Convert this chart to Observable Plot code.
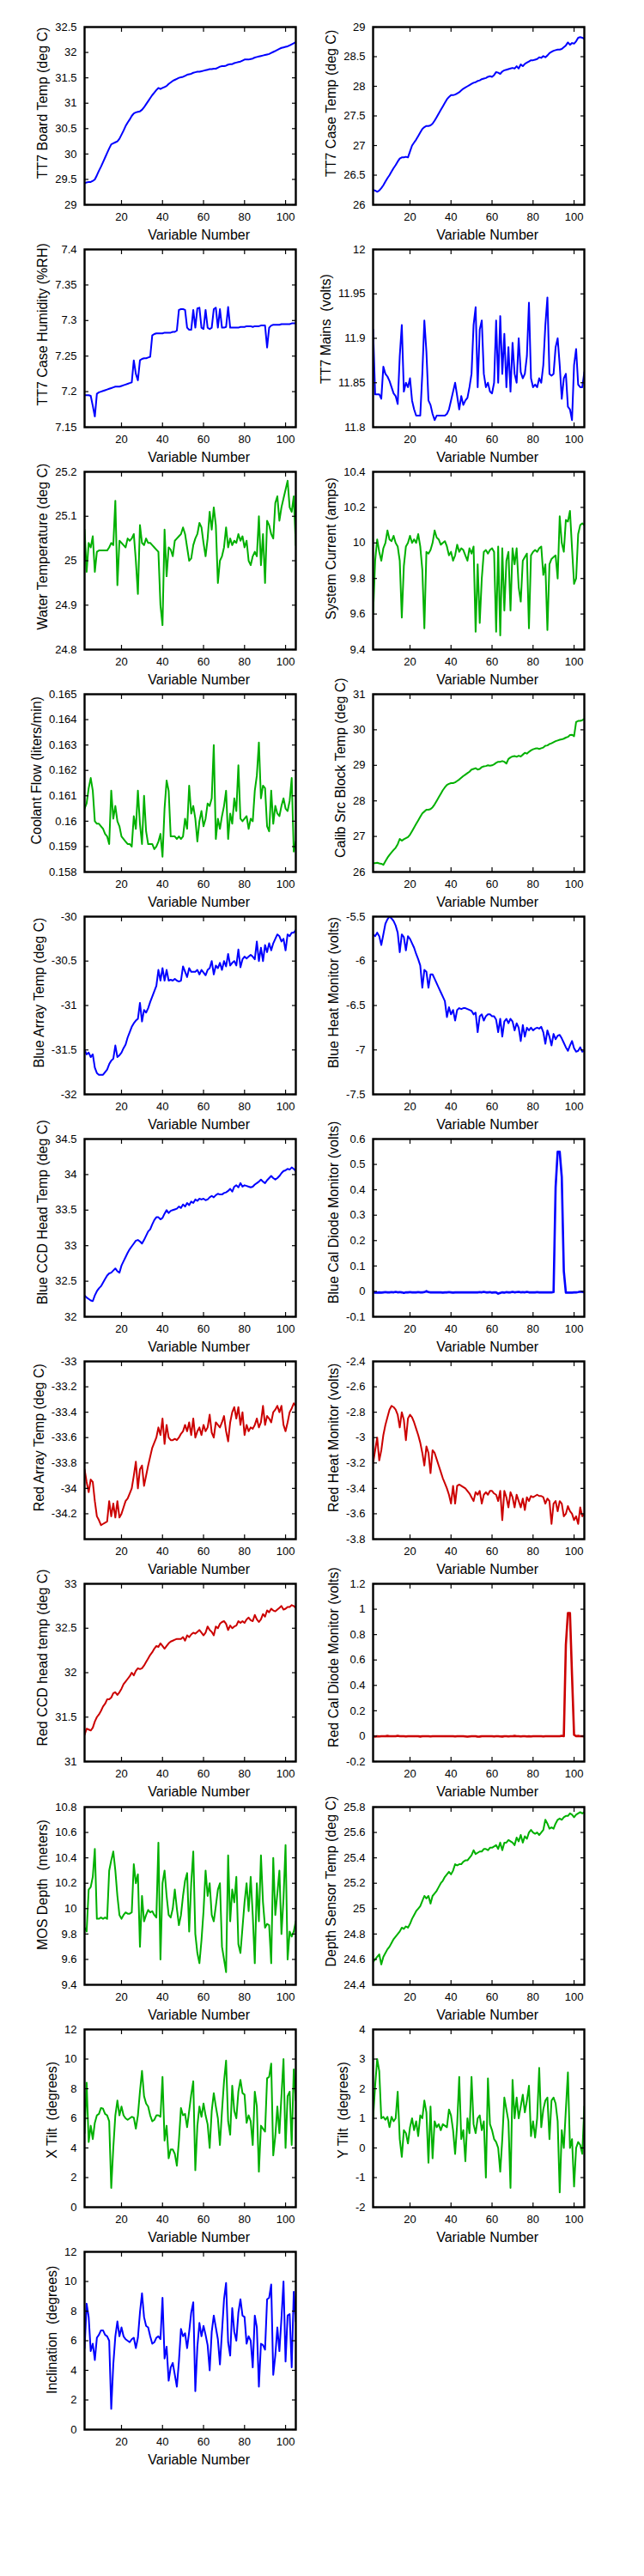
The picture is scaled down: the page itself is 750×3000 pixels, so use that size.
<!DOCTYPE html>
<html><head><meta charset="utf-8">
<script src="https://cdn.jsdelivr.net/npm/d3@7"></script>
<script src="https://cdn.jsdelivr.net/npm/@observablehq/plot@0.6"></script>
<style>
html,body{margin:0;padding:0;background:#fff;}
#wrap{position:relative;width:750px;height:3000px;background:#fff;overflow:hidden;}
#wrap svg{position:absolute;overflow:visible;}
#wrap text{white-space:pre;}
</style></head><body><div id="wrap"></div>
<script>
const variableNumber = d3.range(2, 106);
const xTicks = [20, 40, 60, 80, 100];

const boardTemp = [
29.42,29.44,29.45,29.45,29.47,29.5,29.58,29.67,29.75,29.84,
29.93,30.02,30.11,30.19,30.21,30.23,30.25,30.3,30.38,30.46,
30.55,30.62,30.68,30.75,30.8,30.82,30.83,30.84,30.87,30.92,
30.98,31.04,31.1,31.16,31.21,31.26,31.3,31.28,31.3,31.32,
31.34,31.38,31.41,31.44,31.46,31.48,31.5,31.51,31.52,31.54,
31.56,31.57,31.58,31.6,31.61,31.62,31.62,31.63,31.64,31.65,
31.66,31.67,31.67,31.68,31.68,31.7,31.72,31.73,31.73,31.74,
31.76,31.77,31.77,31.79,31.8,31.81,31.82,31.84,31.86,31.86,
31.86,31.87,31.88,31.9,31.91,31.92,31.93,31.94,31.95,31.96,
31.97,31.99,32.01,32.03,32.05,32.07,32.09,32.1,32.11,32.12,
32.14,32.16,32.18,32.2];
const caseTemp = [
26.25,26.24,26.22,26.24,26.28,26.33,26.39,26.45,26.5,26.56,
26.62,26.67,26.73,26.78,26.8,26.8,26.81,26.8,26.9,27.0,
27.05,27.1,27.16,27.22,27.28,27.31,27.33,27.33,27.34,27.37,
27.42,27.48,27.54,27.6,27.66,27.72,27.78,27.82,27.85,27.85,
27.86,27.88,27.9,27.93,27.96,27.98,28.0,28.02,28.04,28.06,
28.07,28.09,28.1,28.12,28.13,28.14,28.16,28.17,28.16,28.19,
28.24,28.23,28.21,28.25,28.27,28.28,28.29,28.3,28.31,28.3,
28.34,28.3,28.37,28.34,28.38,28.4,28.42,28.44,28.44,28.45,
28.46,28.49,28.48,28.51,28.49,28.52,28.56,28.58,28.6,28.61,
28.62,28.62,28.63,28.66,28.69,28.74,28.7,28.73,28.72,28.76,
28.82,28.83,28.82,28.8];
const caseHumidity = [
7.195,7.195,7.195,7.194,7.18,7.165,7.197,7.199,7.2,7.201,
7.202,7.203,7.204,7.205,7.206,7.207,7.207,7.207,7.208,7.209,
7.21,7.211,7.212,7.213,7.244,7.225,7.216,7.244,7.246,7.247,
7.247,7.248,7.249,7.279,7.281,7.282,7.282,7.282,7.282,7.283,
7.283,7.283,7.283,7.284,7.284,7.286,7.315,7.316,7.316,7.315,
7.29,7.287,7.287,7.315,7.29,7.317,7.318,7.29,7.288,7.315,
7.29,7.288,7.29,7.316,7.318,7.29,7.316,7.29,7.29,7.291,
7.319,7.29,7.29,7.29,7.29,7.29,7.291,7.291,7.291,7.292,
7.292,7.292,7.291,7.292,7.292,7.292,7.293,7.293,7.293,7.262,
7.29,7.293,7.294,7.294,7.294,7.294,7.295,7.295,7.295,7.295,
7.295,7.296,7.296,7.296];
const mainsVolts = [
11.91,11.837,11.837,11.837,11.832,11.868,11.86,11.857,11.852,11.845,
11.838,11.835,11.826,11.88,11.915,11.84,11.85,11.845,11.855,11.83,
11.82,11.813,11.813,11.813,11.86,11.92,11.885,11.83,11.825,11.815,
11.808,11.813,11.813,11.813,11.813,11.813,11.815,11.82,11.83,11.84,
11.85,11.835,11.82,11.835,11.825,11.83,11.833,11.845,11.86,11.915,
11.935,11.845,11.91,11.92,11.86,11.845,11.85,11.84,11.838,11.85,
11.92,11.85,11.925,11.86,11.905,11.845,11.89,11.84,11.895,11.86,
11.85,11.9,11.862,11.855,11.86,11.88,11.94,11.855,11.845,11.848,
11.845,11.855,11.85,11.87,11.915,11.946,11.86,11.858,11.86,11.89,
11.9,11.87,11.832,11.855,11.86,11.823,11.82,11.808,11.87,11.888,
11.848,11.845,11.845,11.862];
const waterTemp = [
25.07,24.975,25.04,25.03,25.055,24.975,25.02,25.023,25.023,25.023,
25.023,25.023,25.03,25.04,25.035,25.135,24.945,25.045,25.04,25.035,
25.03,25.05,25.045,25.05,25.06,25.0,24.925,25.08,25.04,25.035,
25.05,25.04,25.04,25.035,25.03,25.025,25.02,24.9,24.855,25.07,
24.965,25.03,25.025,25.01,25.045,25.05,25.055,25.06,25.075,25.06,
25.03,25.0,25.005,25.035,25.05,25.06,25.085,25.075,25.04,25.01,
25.05,25.11,25.07,25.12,25.08,24.95,25.0,25.01,25.03,25.075,
25.03,25.05,25.035,25.045,25.04,25.06,25.045,25.055,25.03,25.045,
25.0,24.99,25.01,25.02,25.01,25.1,24.99,25.06,24.95,25.09,
25.08,25.06,25.05,25.13,25.145,25.09,25.12,25.14,25.16,25.18,
25.12,25.11,25.145,25.035];
const systemCurrent = [
9.6,9.9,10.02,9.95,9.9,9.97,10.0,10.07,10.02,10.01,
10.04,10.0,9.98,9.9,9.58,9.87,9.98,10.0,10.04,10.0,
10.02,10.0,10.05,9.98,9.85,9.52,9.95,9.94,9.96,10.0,
10.07,10.03,10.02,9.99,10.0,10.01,9.98,9.93,9.95,9.9,
9.93,9.99,9.95,9.97,9.96,9.93,9.9,9.97,9.94,9.98,
9.5,9.88,9.55,9.8,9.95,9.96,9.94,9.96,9.97,9.95,
9.5,9.98,9.48,9.97,9.62,9.9,9.95,9.62,9.97,9.88,
9.97,9.75,9.67,9.9,9.92,9.94,9.52,9.93,9.95,9.96,
9.95,9.97,9.98,9.82,9.88,9.51,9.88,9.91,9.92,9.93,
9.8,10.15,10.0,9.95,10.13,10.12,10.18,9.97,9.77,9.8,
10.05,10.1,10.11,10.1];
const coolantFlow = [
0.1605,0.1607,0.1613,0.1617,0.1612,0.16,0.1599,0.1599,0.1598,0.1597,
0.1595,0.1594,0.1591,0.1612,0.1601,0.1606,0.16,0.1598,0.1594,0.1593,
0.1592,0.1591,0.1591,0.159,0.1602,0.1597,0.1612,0.1599,0.1591,0.161,
0.1596,0.1591,0.1591,0.1591,0.1589,0.159,0.1592,0.1595,0.1586,0.1605,
0.1616,0.1612,0.1594,0.1594,0.1594,0.1593,0.1594,0.1593,0.1594,0.1601,
0.1597,0.1614,0.1603,0.1606,0.1601,0.1592,0.16,0.1604,0.1598,0.1601,
0.1607,0.1606,0.1609,0.163,0.1593,0.1601,0.1597,0.1602,0.1606,0.1612,
0.1593,0.1603,0.1599,0.1609,0.1604,0.1622,0.1601,0.16,0.1601,0.1602,
0.1597,0.1601,0.16,0.1612,0.1618,0.1631,0.1609,0.1614,0.1613,0.1598,
0.1596,0.1612,0.1599,0.1606,0.1603,0.1602,0.1606,0.1609,0.1605,0.1604,
0.1608,0.1617,0.1588,0.1592];
const calibTemp = [
26.25,26.25,26.26,26.24,26.23,26.2,26.3,26.4,26.48,26.55,
26.62,26.68,26.78,26.93,26.88,26.92,26.95,26.98,27.05,27.15,
27.25,27.35,27.45,27.55,27.65,27.7,27.75,27.75,27.77,27.82,
27.9,28.0,28.1,28.2,28.3,28.38,28.45,28.48,28.5,28.5,
28.52,28.56,28.6,28.65,28.7,28.74,28.78,28.82,28.88,28.9,
28.92,28.88,28.9,28.95,28.97,28.98,29.0,28.99,29.0,29.03,
29.07,29.1,29.1,29.12,29.1,29.05,29.18,29.22,29.25,29.26,
29.24,29.27,29.25,29.3,29.35,29.33,29.38,29.42,29.45,29.47,
29.48,29.46,29.48,29.5,29.55,29.56,29.6,29.62,29.65,29.68,
29.7,29.72,29.73,29.75,29.78,29.8,29.85,29.86,29.82,30.22,
30.25,30.25,30.27,30.3];
const blueArray = [
-31.5,-31.55,-31.53,-31.58,-31.55,-31.7,-31.76,-31.78,-31.78,-31.78,
-31.75,-31.72,-31.66,-31.62,-31.6,-31.45,-31.58,-31.56,-31.53,-31.48,
-31.44,-31.36,-31.3,-31.24,-31.2,-31.17,-31.15,-30.97,-31.18,-31.05,
-31.08,-31.03,-30.96,-30.9,-30.84,-30.78,-30.6,-30.72,-30.58,-30.72,
-30.6,-30.72,-30.71,-30.72,-30.7,-30.72,-30.73,-30.72,-30.56,-30.62,
-30.68,-30.58,-30.62,-30.62,-30.62,-30.6,-30.65,-30.6,-30.63,-30.66,
-30.6,-30.58,-30.5,-30.65,-30.55,-30.58,-30.52,-30.6,-30.5,-30.56,
-30.42,-30.55,-30.52,-30.5,-30.55,-30.37,-30.57,-30.48,-30.45,-30.47,
-30.45,-30.43,-30.45,-30.48,-30.28,-30.5,-30.35,-30.5,-30.32,-30.4,
-30.3,-30.38,-30.3,-30.25,-30.2,-30.22,-30.28,-30.25,-30.38,-30.2,
-30.22,-30.18,-30.18,-30.15];
const blueHeat = [
-5.7,-5.72,-5.68,-5.72,-5.82,-5.7,-5.58,-5.53,-5.5,-5.52,
-5.55,-5.6,-5.68,-5.9,-5.7,-5.73,-5.88,-5.72,-5.75,-5.8,
-5.85,-5.92,-5.98,-6.05,-6.3,-6.1,-6.12,-6.3,-6.15,-6.15,
-6.2,-6.25,-6.3,-6.35,-6.4,-6.45,-6.63,-6.52,-6.6,-6.55,
-6.67,-6.55,-6.53,-6.54,-6.53,-6.53,-6.54,-6.55,-6.56,-6.6,
-6.58,-6.8,-6.62,-6.6,-6.67,-6.62,-6.6,-6.6,-6.62,-6.62,
-6.66,-6.8,-6.65,-6.85,-6.68,-6.65,-6.7,-6.65,-6.68,-6.78,
-6.7,-6.75,-6.9,-6.72,-6.85,-6.75,-6.78,-6.75,-6.78,-6.76,
-6.75,-6.76,-6.74,-6.8,-6.93,-6.78,-6.85,-6.95,-6.82,-6.88,
-6.84,-6.83,-6.87,-6.92,-6.97,-7.01,-6.95,-6.9,-6.98,-7.02,
-7.01,-6.97,-7.02,-7.01];
const blueCCD = [
32.3,32.27,32.25,32.23,32.22,32.3,32.36,32.4,32.43,32.48,
32.53,32.58,32.61,32.62,32.65,32.68,32.64,32.62,32.72,32.78,
32.84,32.9,32.95,32.99,33.03,33.07,33.08,33.06,33.03,33.08,
33.14,33.2,33.23,33.3,33.36,33.4,33.4,33.37,33.39,33.45,
33.5,33.46,33.49,33.5,33.51,33.52,33.55,33.53,33.58,33.55,
33.6,33.57,33.62,33.6,33.65,33.63,33.66,33.65,33.66,33.64,
33.65,33.68,33.7,33.68,33.71,33.73,33.72,33.72,33.74,33.75,
33.77,33.8,33.76,33.83,33.85,33.82,33.88,33.83,33.85,33.84,
33.83,33.82,33.83,33.86,33.88,33.9,33.93,33.9,33.88,33.92,
33.95,33.98,33.95,33.93,33.95,33.98,34.02,34.05,34.06,34.08,
34.07,34.1,34.08,34.05];
const blueCalDiode = [
-0.003,-0.005,-0.005,-0.004,-0.005,-0.004,-0.003,-0.004,-0.004,-0.003,
-0.004,-0.002,-0.004,-0.003,-0.004,-0.006,-0.004,-0.004,-0.003,-0.004,
-0.004,-0.004,-0.003,-0.004,-0.004,-0.003,0.001,-0.003,-0.004,-0.004,
-0.004,-0.004,-0.004,-0.004,-0.005,-0.004,-0.004,-0.003,-0.004,-0.005,
-0.004,-0.004,-0.004,-0.004,-0.004,-0.004,-0.004,-0.004,-0.004,-0.004,
-0.004,-0.004,-0.003,-0.004,-0.002,-0.004,-0.004,-0.003,-0.005,-0.004,
-0.004,-0.009,-0.006,-0.004,-0.005,-0.003,-0.004,-0.004,-0.002,-0.004,
-0.003,-0.002,-0.004,-0.003,-0.004,-0.002,-0.004,-0.004,-0.004,-0.004,
-0.003,-0.004,-0.004,-0.004,-0.004,-0.004,-0.004,-0.004,-0.003,0.41,
0.55,0.55,0.45,0.08,-0.005,-0.005,-0.005,-0.005,-0.004,-0.004,
-0.003,-0.001,-0.002,-0.004];
const redArray = [
-33.85,-33.95,-34.03,-33.93,-33.95,-34.1,-34.22,-34.25,-34.29,-34.28,
-34.27,-34.26,-34.1,-34.22,-34.12,-34.23,-34.1,-34.23,-34.2,-34.15,
-34.1,-34.08,-34.04,-34.0,-33.9,-33.79,-34.0,-33.85,-33.82,-33.98,
-33.9,-33.82,-33.75,-33.68,-33.64,-33.6,-33.52,-33.58,-33.45,-33.65,
-33.5,-33.6,-33.62,-33.62,-33.61,-33.62,-33.6,-33.57,-33.55,-33.5,
-33.55,-33.48,-33.58,-33.45,-33.6,-33.55,-33.52,-33.58,-33.5,-33.55,
-33.52,-33.42,-33.56,-33.6,-33.48,-33.5,-33.52,-33.48,-33.43,-33.55,
-33.63,-33.48,-33.4,-33.36,-33.45,-33.36,-33.5,-33.4,-33.58,-33.5,
-33.55,-33.52,-33.53,-33.5,-33.45,-33.52,-33.48,-33.35,-33.5,-33.43,
-33.45,-33.48,-33.4,-33.38,-33.35,-33.4,-33.35,-33.5,-33.55,-33.48,
-33.4,-33.37,-33.33,-33.35];
const redHeat = [
-3.2,-3.1,-3.0,-3.18,-3.1,-2.98,-2.9,-2.84,-2.78,-2.75,
-2.76,-2.78,-2.82,-2.92,-2.8,-2.86,-3.02,-2.85,-2.82,-2.84,
-2.88,-2.93,-2.98,-3.04,-3.12,-3.22,-3.07,-3.12,-3.28,-3.1,
-3.12,-3.17,-3.22,-3.27,-3.32,-3.36,-3.4,-3.45,-3.52,-3.38,
-3.52,-3.38,-3.37,-3.38,-3.39,-3.4,-3.42,-3.44,-3.47,-3.5,
-3.43,-3.45,-3.42,-3.52,-3.45,-3.43,-3.45,-3.42,-3.42,-3.44,
-3.45,-3.5,-3.42,-3.65,-3.42,-3.47,-3.55,-3.43,-3.47,-3.55,
-3.45,-3.5,-3.55,-3.48,-3.57,-3.47,-3.5,-3.46,-3.47,-3.46,
-3.45,-3.46,-3.46,-3.47,-3.52,-3.48,-3.5,-3.68,-3.52,-3.5,
-3.58,-3.5,-3.52,-3.62,-3.6,-3.54,-3.58,-3.6,-3.65,-3.62,
-3.68,-3.55,-3.62,-3.6];
const redCCD = [
31.3,31.37,31.36,31.35,31.38,31.45,31.5,31.53,31.57,31.62,
31.65,31.7,31.7,31.72,31.77,31.78,31.75,31.78,31.82,31.87,
31.9,31.93,31.96,32.0,31.97,32.02,32.05,32.04,32.05,32.08,
32.12,32.16,32.2,32.23,32.27,32.3,32.29,32.33,32.3,32.27,
32.3,32.33,32.35,32.36,32.37,32.38,32.38,32.38,32.4,32.36,
32.42,32.4,32.43,32.45,32.44,32.46,32.48,32.45,32.42,32.45,
32.52,32.48,32.46,32.42,32.52,32.5,32.55,32.57,32.58,32.55,
32.48,32.53,32.5,32.52,32.53,32.58,32.56,32.58,32.56,32.6,
32.62,32.59,32.58,32.65,32.6,32.57,32.6,32.66,32.63,32.7,
32.68,32.72,32.7,32.69,32.71,32.73,32.75,32.71,32.72,32.74,
32.74,32.76,32.75,32.73];
const redCalDiode = [
0.0,-0.003,0.0,-0.002,0.0,0.0,-0.001,0.002,0.0,-0.001,
0.0,0.0,0.003,0.0,-0.001,0.0,-0.002,0.0,0.0,0.0,
-0.001,0.0,0.0,-0.003,0.0,0.0,0.0,0.0,-0.002,0.0,
0.0,0.0,0.0,0.0,0.0,-0.001,0.0,0.0,0.0,0.0,
-0.002,0.0,0.0,0.0,0.0,-0.002,-0.004,-0.002,0.0,0.0,
0.0,-0.004,-0.003,0.0,0.0,0.0,0.0,0.0,0.0,-0.002,
0.0,0.0,-0.002,-0.003,0.0,0.0,-0.002,0.0,0.0,0.002,
0.0,0.0,-0.002,0.0,0.0,-0.002,0.0,-0.002,0.0,0.0,
0.0,0.0,0.0,-0.002,0.0,0.0,0.0,0.0,0.0,0.0,
0.0,0.0,0.003,0.0,0.72,0.97,0.97,0.48,0.01,0.0,
0.002,0.0,0.0,-0.002];
const mosDepth = [
9.85,9.82,10.15,10.17,10.25,10.47,9.92,9.92,9.93,9.92,
9.93,9.92,10.3,10.38,10.45,10.3,10.1,9.95,9.92,9.95,
9.97,9.96,9.96,9.97,10.35,10.2,10.27,9.7,10.1,9.9,
9.95,9.99,9.97,9.98,9.95,9.93,10.52,9.6,10.2,10.3,
10.1,9.95,9.93,10.0,10.15,10.0,9.87,9.95,10.1,10.22,
10.28,9.82,10.2,10.45,9.8,9.65,9.57,9.75,9.98,10.3,
10.1,10.2,9.95,9.9,10.02,10.15,10.2,9.7,9.6,9.5,
10.42,9.9,10.15,10.05,10.25,9.72,9.65,9.85,10.05,10.2,
9.98,10.25,9.95,9.57,10.2,9.9,10.42,10.05,9.85,9.88,
9.87,9.57,10.4,9.95,10.12,10.3,9.8,10.08,10.5,9.6,
9.82,9.78,9.82,9.9];
const depthSensorTemp = [
24.58,24.6,24.62,24.64,24.56,24.62,24.65,24.68,24.7,24.73,
24.76,24.78,24.8,24.82,24.85,24.84,24.86,24.85,24.88,24.92,
24.95,24.98,25.0,25.02,25.06,25.1,25.08,25.1,25.04,25.1,
25.12,25.14,25.17,25.2,25.22,25.25,25.27,25.29,25.27,25.3,
25.35,25.34,25.35,25.35,25.37,25.38,25.38,25.4,25.42,25.46,
25.43,25.44,25.45,25.45,25.47,25.47,25.46,25.48,25.48,25.49,
25.5,25.47,25.52,25.46,25.52,25.52,25.54,25.53,25.52,25.5,
25.56,25.53,25.58,25.52,25.57,25.55,25.6,25.62,25.6,25.59,
25.6,25.58,25.6,25.62,25.7,25.67,25.63,25.64,25.63,25.67,
25.7,25.71,25.7,25.72,25.73,25.73,25.75,25.74,25.72,25.74,
25.75,25.76,25.75,25.76];
const xTilt = [
5.0,8.4,4.4,5.5,4.6,5.7,6.2,6.3,6.7,6.65,
6.3,6.2,5.8,1.3,4.0,6.2,7.2,6.2,6.8,6.2,
6.0,5.9,6.0,6.1,6.05,5.3,6.2,7.8,9.2,7.5,
7.0,6.8,6.2,5.8,5.9,6.2,6.2,6.1,8.8,4.5,
5.5,3.3,3.9,3.9,3.6,2.8,4.5,6.7,6.2,6.3,
5.4,6.5,7.6,8.5,2.5,5.5,6.8,6.1,7.0,6.2,
5.6,4.0,6.5,7.7,6.8,6.0,4.2,6.5,8.5,9.9,
5.8,4.9,8.2,6.5,6.0,7.8,8.6,7.7,7.6,5.7,
6.2,5.8,4.2,7.8,6.8,2.4,5.5,5.3,5.1,8.7,
8.8,9.7,3.5,4.8,6.8,5.0,7.5,10.0,4.0,7.5,
7.8,4.2,9.3,7.2];
const yTilt = [
1.0,2.1,3.0,2.6,1.0,1.05,0.95,1.05,0.7,1.05,
0.9,1.0,1.9,0.3,-0.3,0.6,0.5,0.15,0.7,1.0,
0.6,0.9,0.4,1.1,1.0,1.6,1.2,-0.5,1.4,-0.35,
0.9,0.7,0.8,0.6,0.8,0.75,0.7,1.3,1.1,0.6,
-0.2,0.8,2.4,0.3,0.6,-0.45,1.0,0.5,2.4,0.8,
0.5,1.0,1.1,0.6,0.9,-1.0,2.35,0.8,0.6,0.3,
0.2,0.0,-0.8,0.3,1.7,1.3,0.9,-1.35,2.3,1.0,
1.7,1.0,1.4,1.8,1.2,1.6,2.1,0.4,0.9,0.35,
1.0,2.7,0.7,1.3,1.6,1.7,0.3,1.6,1.7,1.5,
0.9,-1.5,0.6,0.0,1.3,2.55,0.0,0.3,-1.3,0.0,
0.2,0.1,-0.2,1.4];
const inclination = [
5.5,8.5,7.6,5.3,5.8,4.7,6.2,6.4,6.7,6.7,
6.4,6.3,6.0,1.4,4.4,6.3,7.3,6.3,6.9,6.3,
6.1,6.0,5.9,6.1,6.2,5.5,6.2,7.9,9.2,7.6,
7.0,6.9,6.3,5.8,5.9,6.2,6.3,6.1,8.9,4.8,
5.6,3.3,4.2,4.5,3.7,2.9,4.6,6.8,6.3,6.5,
5.5,6.6,7.9,8.6,2.6,5.6,7.2,6.3,7.0,6.4,
5.7,4.0,6.6,7.7,6.9,6.1,4.4,6.6,8.8,9.9,
5.9,5.0,8.2,6.6,6.0,7.9,8.8,7.7,7.6,5.8,
6.3,6.0,4.2,7.7,6.9,2.9,5.8,5.7,5.4,8.8,
8.9,9.8,3.7,5.0,6.9,5.3,7.5,10.0,4.6,7.7,
7.8,4.2,9.3,7.3];

const BLUE = "#0000ff", GREEN = "#00b000", RED = "#cc0000";

const panels = [
  {label:"TT7 Board Temp (deg C)", values:boardTemp, domain:[29,32.5], ticks:[29,29.5,30,30.5,31,31.5,32,32.5], color:BLUE},
  {label:"TT7 Case Temp (deg C)", values:caseTemp, domain:[26,29], ticks:[26,26.5,27,27.5,28,28.5,29], color:BLUE},
  {label:"TT7 Case Humidity (%RH)", values:caseHumidity, domain:[7.15,7.4], ticks:[7.15,7.2,7.25,7.3,7.35,7.4], color:BLUE},
  {label:"TT7 Mains  (volts)", values:mainsVolts, domain:[11.8,12], ticks:[11.8,11.85,11.9,11.95,12], color:BLUE},
  {label:"Water Temperature (deg C)", values:waterTemp, domain:[24.8,25.2], ticks:[24.8,24.9,25,25.1,25.2], color:GREEN},
  {label:"System Current (amps)", values:systemCurrent, domain:[9.4,10.4], ticks:[9.4,9.6,9.8,10,10.2,10.4], color:GREEN},
  {label:"Coolant Flow (liters/min)", values:coolantFlow, domain:[0.158,0.165], ticks:[0.158,0.159,0.16,0.161,0.162,0.163,0.164,0.165], color:GREEN},
  {label:"Calib Src Block Temp (deg C)", values:calibTemp, domain:[26,31], ticks:[26,27,28,29,30,31], color:GREEN},
  {label:"Blue Array Temp (deg C)", values:blueArray, domain:[-32,-30], ticks:[-32,-31.5,-31,-30.5,-30], color:BLUE},
  {label:"Blue Heat Monitor (volts)", values:blueHeat, domain:[-7.5,-5.5], ticks:[-7.5,-7,-6.5,-6,-5.5], color:BLUE},
  {label:"Blue CCD Head Temp (deg C)", values:blueCCD, domain:[32,34.5], ticks:[32,32.5,33,33.5,34,34.5], color:BLUE},
  {label:"Blue Cal Diode Monitor (volts)", values:blueCalDiode, domain:[-0.1,0.6], ticks:[-0.1,0,0.1,0.2,0.3,0.4,0.5,0.6], color:BLUE, sw:2.6},
  {label:"Red Array Temp (deg C)", values:redArray, domain:[-34.4,-33], ticks:[-34.2,-34,-33.8,-33.6,-33.4,-33.2,-33], color:RED},
  {label:"Red Heat Monitor (volts)", values:redHeat, domain:[-3.8,-2.4], ticks:[-3.8,-3.6,-3.4,-3.2,-3,-2.8,-2.6,-2.4], color:RED},
  {label:"Red CCD head temp (deg C)", values:redCCD, domain:[31,33], ticks:[31,31.5,32,32.5,33], color:RED},
  {label:"Red Cal Diode Monitor (volts)", values:redCalDiode, domain:[-0.2,1.2], ticks:[-0.2,0,0.2,0.4,0.6,0.8,1,1.2], color:RED, sw:2.6},
  {label:"MOS Depth  (meters)", values:mosDepth, domain:[9.4,10.8], ticks:[9.4,9.6,9.8,10,10.2,10.4,10.6,10.8], color:GREEN},
  {label:"Depth Sensor Temp (deg C)", values:depthSensorTemp, domain:[24.4,25.8], ticks:[24.4,24.6,24.8,25,25.2,25.4,25.6,25.8], color:GREEN},
  {label:"X Tilt  (degrees)", values:xTilt, domain:[0,12], ticks:[0,2,4,6,8,10,12], color:GREEN},
  {label:"Y Tilt  (degrees)", values:yTilt, domain:[-2,4], ticks:[-2,-1,0,1,2,3,4], color:GREEN},
  {label:"Inclination  (degrees)", values:inclination, domain:[0,12], ticks:[0,2,4,6,8,10,12], color:BLUE}
];

const FONT = "'Liberation Sans', Arial, Helvetica, sans-serif";
const ctx = document.createElement("canvas").getContext("2d");
function textWidth(s, size) { ctx.font = size + "px " + FONT; return ctx.measureText(s).width; }

const BOX_W = 246, BOX_H = 207, ML = 100, MR = 20, MT = 30, MB = 50;
const colLeft = [98, 434];
const rowTop0 = 30.7, rowStep = 259.1;
const wrap = document.getElementById("wrap");
const fmt = d => String(d);

panels.forEach((p, i) => {
  if (p.values.length !== variableNumber.length) throw new Error(p.label + " has " + p.values.length + " values");
  const col = i % 2, row = Math.floor(i / 2);
  const data = p.values.map((v, j) => ({n: variableNumber[j], v}));
  const tickW = d3.max(p.ticks, t => textWidth(String(t), 13));
  const labW = textWidth(p.label, 16);
  const xlW = textWidth("Variable Number", 16);
  const chart = Plot.plot({
    width: ML + BOX_W + MR, height: MT + BOX_H + MB,
    marginLeft: ML, marginRight: MR, marginTop: MT, marginBottom: MB,
    style: {background: "transparent", overflow: "visible", fontFamily: FONT, color: "#000"},
    x: {domain: [2, 105]},
    y: {domain: p.domain},
    marks: [
      Plot.line(data, {x: "n", y: "v", stroke: p.color, strokeWidth: p.sw || 2, clip: true}),
      Plot.axisX({ticks: xTicks, anchor: "bottom", tickSize: -5, tickPadding: 14, tickFormat: fmt, fontSize: 13, label: null, strokeWidth: 1.2}),
      Plot.axisX({ticks: xTicks, anchor: "top", tickSize: -5, tickPadding: 0, tickFormat: () => "", label: null, strokeWidth: 1.2}),
      Plot.axisY({ticks: p.ticks, anchor: "left", tickSize: -5, tickPadding: 14, tickFormat: fmt, fontSize: 13, label: null, strokeWidth: 1.2}),
      Plot.axisY({ticks: p.ticks, anchor: "right", tickSize: -5, tickPadding: 0, tickFormat: () => "", label: null, strokeWidth: 1.2}),
      Plot.frame({stroke: "#000", strokeWidth: 2.4}),
      Plot.text(["Variable Number"], {text: d => d, frameAnchor: "bottom", dy: 35, dx: 0.085 * xlW, fontSize: 16, lineAnchor: "middle", textAnchor: "middle", fill: "#000"}),
      Plot.text([p.label], {text: d => d, frameAnchor: "left", rotate: -90, dx: -(9 + tickW + 14), dy: -0.085 * labW, fontSize: 16, lineAnchor: "middle", textAnchor: "middle", fill: "#000"})
    ]
  });
  chart.style.position = "absolute";
  chart.style.left = (colLeft[col] - ML) + "px";
  chart.style.top = (rowTop0 + row * rowStep - MT) + "px";
  wrap.appendChild(chart);
});
</script>
</body></html>
